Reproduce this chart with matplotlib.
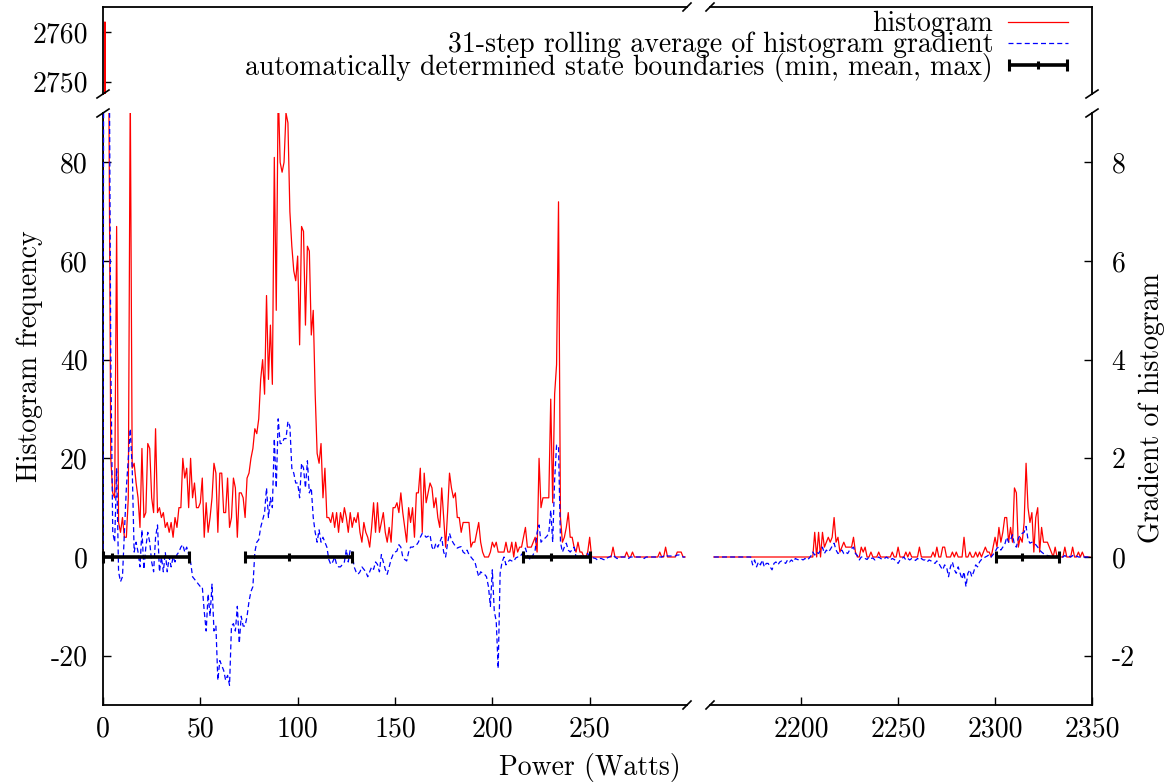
import numpy as np
import matplotlib
matplotlib.use("Agg")
import matplotlib.pyplot as plt
from matplotlib.lines import Line2D
from matplotlib.legend_handler import HandlerErrorbar

plt.rcParams['font.family'] = ['cmr10', 'DejaVu Serif']
plt.rcParams['axes.unicode_minus'] = False
plt.rcParams['font.size'] = 20

# ---- data (1 W bins) ----
left_start = 0      # first bin of the low-power part (W)
right_start = 2155  # first bin of the high-power part (W)

hist_left = [
    0, 2762, 400, 95, 20, 13, 12, 67, 7, 5, 8, 4, 4, 12, 95, 18, 19, 15, 12, 6,
    22, 8, 9, 23, 22, 12, 9, 26, 9, 10, 8, 9, 6, 7, 5, 7, 4, 8, 6, 10,
    10, 20, 16, 18, 10, 20, 12, 15, 10, 10, 11, 16, 4, 11, 5, 8, 12, 19, 17, 5,
    17, 17, 9, 9, 16, 6, 8, 16, 14, 4, 13, 13, 12, 8, 16, 17, 20, 22, 26, 25,
    28, 36, 40, 33, 53, 36, 47, 35, 81, 50, 95, 80, 78, 80, 90, 88, 70, 63, 58, 56,
    61, 43, 67, 66, 47, 63, 62, 45, 50, 33, 21, 19, 23, 12, 18, 8, 8, 7, 9, 6,
    9, 5, 9, 7, 10, 8, 5, 9, 6, 8, 7, 9, 5, 3, 7, 5, 4, 2, 6, 11,
    5, 11, 5, 7, 9, 5, 3, 6, 3, 10, 10, 11, 9, 13, 9, 6, 3, 10, 7, 10,
    4, 13, 13, 18, 5, 17, 11, 13, 15, 14, 10, 12, 8, 6, 14, 8, 2, 9, 17, 14,
    12, 13, 8, 8, 5, 7, 7, 7, 7, 2, 3, 3, 5, 7, 3, 1, 0, 0, 0, 1,
    3, 2, 3, 1, 1, 1, 1, 3, 1, 1, 3, 0, 3, 1, 2, 2, 4, 6, 2, 2,
    2, 3, 4, 1, 20, 10, 12, 12, 12, 12, 32, 11, 33, 39, 72, 8, 3, 4, 6, 9,
    4, 4, 2, 1, 3, 1, 1, 0, 0, 1, 4, 0, 0, 0, 0, 0, 0, 0, 0, 0,
    0, 0, 2, 0, 0, 0, 0, 0, 0, 1, 0, 0, 1, 0, 0, 0, 0, 0, 0, 0,
    0, 0, 0, 0, 0, 0, 1, 0, 0, 2, 0, 0, 0, 0, 0, 1, 1, 1, 0, 0,
]

grad_left = [
    0, 30, 25, 12, 4, 0.5, 0.3, 1.8, -0.3, -0.5, -0.4, 0.5, 1.4, 2.0, 2.6, 1.8, 0.1, 0.3, 0.1, -0.2,
    0.55, -0.25, 0.2, 0.5, 0.3, -0.1, -0.3, 0.4, 0.65, -0.3, 0, -0.3, 0.1, -0.3, 0, -0.2, 0, -0.1, 0.05, 0.1,
    0.2, 0.25, 0.1, 0.2, 0.05, -0.1, -0.4, -0.45, -0.5, -0.55, -0.6, -0.6, -1.1, -1.5, -0.75, -1.2, -0.55, -1.5, -1.4, -2.5,
    -2.1, -2.2, -2.3, -2.5, -2.4, -2.6, -1.4, -1.35, -1.5, -1.0, -1.75, -1.2, -1.4, -1.4, -1.2, -0.9, -0.7, -0.6, 0.1, 0.3,
    0.35, 0.6, 0.75, 0.9, 1.4, 0.8, 1.2, 1.0, 2.4, 1.4, 2.8, 2.3, 2.3, 2.4, 2.4, 2.75, 2.65, 1.8, 1.7, 1.5,
    1.5, 1.2, 1.9, 1.8, 1.4, 1.95, 1.3, 1.4, 0.8, 0.5, 0.3, 0.55, 0.3, 0.4, 0.3, 0.2, -0.05, -0.15, -0.1, 0,
    -0.15, -0.2, -0.2, -0.15, -0.1, 0.15, -0.1, 0.15, 0.1, -0.2, -0.3, -0.35, -0.3, -0.2, -0.25, -0.3, -0.4, -0.3, -0.2, -0.25,
    -0.1, -0.15, -0.3, 0.05, -0.1, -0.25, -0.35, -0.2, -0.05, 0.05, 0.1, 0.12, 0.25, 0.2, 0, -0.05, -0.08, 0.1, 0.2, 0.2,
    0.22, 0.24, 0.3, 0.4, 0.48, 0.45, 0.4, 0.42, 0.45, 0.2, 0.14, 0.28, 0.2, 0.3, 0.4, 0.1, 0, 0.28, 0.48, 0.35,
    0.28, 0.22, 0.18, 0.2, 0.21, 0.1, 0.07, 0.14, 0.05, 0, -0.05, -0.09, -0.25, -0.4, -0.3, -0.33, -0.35, -0.4, -0.6, -1.0,
    -0.26, -1.1, -1.3, -2.26, -0.33, -0.1, 0, -0.16, -0.1, -0.06, -0.08, -0.09, -0.02, 0, 0, 0.05, 0.1, 0.18, 0.04, -0.03,
    -0.06, 0.05, 0.14, 0.5, 0.65, 0.3, 0.35, 0.38, 0.42, 0.48, 0.95, 0.3, 1.56, 2.27, 2.24, 0.3, 0.1, 0.2, 0.28, 0.14,
    0.1, 0.15, 0.2, 0, 0.02, 0.04, 0.01, 0, 0.05, 0.07, 0, 0, -0.02, -0.03, -0.06, -0.03, -0.03, -0.05, -0.06, -0.02,
    0, 0.02, 0.04, 0, -0.03, -0.03, 0, 0, 0, 0, -0.03, 0, 0, 0, 0, 0, 0, 0, -0.03, 0,
    0, 0, 0, 0, 0, 0, 0, 0, 0.02, 0.04, 0.02, 0.02, 0.02, 0.02, 0.02, 0.04, 0.04, 0.02, 0, 0,
]

hist_right = [
    0, 0, 0, 0, 0, 0, 0, 0, 0, 0, 0, 0, 0, 0, 0, 0, 0, 0, 0, 0,
    0, 0, 0, 0, 0, 0, 0, 0, 0, 0, 0, 0, 0, 0, 0, 0, 0, 0, 0, 0,
    0, 0, 0, 0, 0, 0, 0, 0, 0, 0, 0, 0, 5, 0, 5, 0, 5, 2, 3, 4,
    3, 4, 8, 3, 4, 1, 2, 3, 2, 2, 2, 2, 4, 1, 0, 0, 2, 1, 2, 0,
    0, 1, 0, 0, 0, 1, 0, 0, 0, 0, 0, 0, 1, 0, 0, 2, 0, 0, 0, 1,
    0, 1, 0, 0, 0, 0, 2, 0, 0, 0, 0, 0, 0, 1, 0, 2, 0, 0, 2, 2,
    0, 0, 0, 1, 0, 1, 0, 0, 0, 4, 0, 0, 1, 0, 0, 1, 0, 1, 0, 1,
    2, 1, 1, 0, 2, 4, 2, 6, 3, 5, 8, 8, 3, 6, 3, 14, 13, 2, 4, 3,
    7, 19, 10, 7, 9, 1, 8, 10, 1, 6, 3, 3, 3, 2, 1, 0, 2, 0, 0, 0,
    0, 2, 0, 0, 0, 2, 0, 0, 1, 0, 1, 0, 0, 0, 0,
]

grad_right = [
    0, 0, 0, 0, 0, 0, 0, 0, 0, 0, 0, 0, 0, 0, 0, 0, 0, 0, 0, 0,
    -0.16, -0.06, -0.2, -0.1, -0.16, -0.06, -0.2, -0.13, -0.13, -0.2, -0.26, -0.13, -0.1, -0.16, -0.1, -0.08, -0.1, -0.13, -0.06, -0.1,
    -0.06, -0.1, -0.03, -0.05, -0.06, -0.04, -0.06, -0.03, -0.06, -0.03, 0.02, 0.1, 0.04, 0.1, 0.07, 0.14, 0.2, 0.07, 0.14, 0.1,
    0.15, 0.22, 0.28, 0.14, 0.07, 0.1, 0.14, 0.07, 0.1, 0.07, 0.14, 0.17, 0.2, 0.07, 0.03, -0.06, 0, 0, -0.03, -0.05,
    0, -0.03, -0.02, -0.06, -0.03, 0, -0.03, -0.05, -0.03, 0, -0.03, -0.06, -0.03, -0.05, -0.08, -0.13, -0.06, -0.03, 0, -0.06,
    -0.03, -0.06, -0.03, -0.04, -0.07, -0.03, -0.06, -0.03, -0.06, -0.06, -0.1, -0.06, -0.08, -0.1, -0.13, -0.08, -0.13, -0.2, -0.26, -0.16,
    -0.2, -0.4, -0.2, -0.1, -0.26, -0.33, -0.2, -0.33, -0.45, -0.3, -0.6, -0.33, -0.26, -0.4, -0.3, -0.16, -0.2, -0.1, -0.05, -0.03,
    0, 0.02, 0.05, 0, 0.05, 0.1, 0.18, 0.2, 0.14, 0.2, 0.25, 0.4, 0.3, 0.35, 0.45, 0.25, 0.2, 0.38, 0.45, 0.48,
    0.5, 0.62, 0.35, 0.28, 0.3, 0.28, 0.25, 0.2, 0.14, 0.1, 0.07, 0.05, 0.03, 0.02, 0, 0, 0, 0, 0.02, 0,
    0, 0.03, 0, 0.02, 0, 0.03, 0, 0.02, 0, 0, 0, 0, 0, 0, 0,
]

# state boundaries (min, mean, max) in Watts
state_min = [0, 73, 216, 2300.5]
state_mean = [4.5, 95.6, 230.2, 2313.8]
state_max = [44, 127.7, 250.3, 2332.8]

x_left = np.arange(len(hist_left)) + left_start
x_right = np.arange(len(hist_right)) + right_start
state_min = np.array(state_min)
state_mean = np.array(state_mean)
state_max = np.array(state_max)

# ---- layout (pixel boxes, y measured from top) ----
W, H = 1173, 782
fig = plt.figure(figsize=(W / 100, H / 100), dpi=100)

def box(x0, y0, x1, y1):
    return [x0 / W, 1 - y1 / H, (x1 - x0) / W, (y1 - y0) / H]

ax_ll = fig.add_axes(box(103, 113, 687, 705))
ax_lr = fig.add_axes(box(710, 113, 1092, 705))
ax_ul = fig.add_axes(box(103, 7, 687, 94))
ax_ur = fig.add_axes(box(710, 7, 1092, 94))

red_kw = dict(color='#ff0000', lw=0.9)
blue_kw = dict(color='#0000ff', lw=0.9, ls=(0, (4, 2.5)))
err_kw = dict(fmt='|', color='black', ms=6, mew=2.2, elinewidth=2.6,
              capsize=4.5, capthick=2.2)

for ax, xs, hs in [(ax_ll, x_left, hist_left), (ax_ul, x_left, hist_left),
                   (ax_lr, x_right, hist_right), (ax_ur, x_right, hist_right)]:
    ax.plot(xs, hs, **red_kw)
    ax.patch.set_alpha(0)
    for s in ax.spines.values():
        s.set_linewidth(1.3)
    ax.tick_params(direction='in', length=6, width=1.0)

for ax in (ax_ll, ax_ul):
    ax.set_xlim(0, 300)
for ax in (ax_lr, ax_ur):
    ax.set_xlim(2153, 2350)
for ax in (ax_ll, ax_lr):
    ax.set_ylim(-30, 90)
for ax in (ax_ul, ax_ur):
    ax.set_ylim(2747.5, 2765)

# twin axes for the gradient (1/10 of the histogram scale)
g_ll = ax_ll.twinx()
g_lr = ax_lr.twinx()
for g, xs, gs, sel in [(g_ll, x_left, grad_left, state_max < 300),
                       (g_lr, x_right, grad_right, state_min > 2000)]:
    g.set_ylim(-3, 9)
    g.plot(xs, gs, **blue_kw)
    eb = g.errorbar(state_mean[sel], np.zeros(sel.sum()),
                    xerr=[state_mean[sel] - state_min[sel], state_max[sel] - state_mean[sel]],
                    **err_kw)
    for a in (eb[1] + eb[2]):
        a.set_clip_on(False)
    for s in g.spines.values():
        s.set_visible(False)
    g.tick_params(direction='in', length=6, width=1.0)
g_ll.set_yticks([])
g_lr.set_yticks([-2, 0, 2, 4, 6, 8])
g_lr.tick_params(right=True, labelright=True, pad=14)

# spines and ticks
ax_ll.spines['top'].set_visible(False)
ax_ll.spines['right'].set_visible(False)
ax_lr.spines['top'].set_visible(False)
ax_lr.spines['left'].set_visible(False)
ax_ul.spines['bottom'].set_visible(False)
ax_ul.spines['right'].set_visible(False)
ax_ur.spines['bottom'].set_visible(False)
ax_ur.spines['left'].set_visible(False)

ax_ll.set_xticks([0, 50, 100, 150, 200, 250])
ax_ll.set_yticks([-20, 0, 20, 40, 60, 80])
ax_ll.tick_params(axis='y', pad=11)
ax_ll.tick_params(axis='x', pad=8)
ax_lr.set_xticks([2200, 2250, 2300, 2350])
ax_lr.tick_params(axis='x', pad=8)
ax_lr.tick_params(axis='y', left=False, labelleft=False)
ax_ul.set_xticks([])
ax_ul.set_yticks([2750, 2760])
ax_ul.tick_params(axis='y', pad=11)
ax_ur.set_xticks([])
ax_ur.set_yticks([])

# break marks
def slash(x, y, dx, dy):
    fig.add_artist(Line2D([(x - dx) / W, (x + dx) / W], [1 - (y + dy) / H, 1 - (y - dy) / H],
                          transform=fig.transFigure, color='black', lw=1.2))

for yy in (94, 113):
    slash(103, yy, 6, 4)
    slash(1092, yy, 6, 4)
for xx in (687, 710):
    slash(xx, 705, 4, 4)
    slash(xx, 7, 4, 4)

# labels
fig.text(30 / W, 1 - 356 / H, 'Histogram frequency', rotation=90, ha='center', va='center')
fig.text(1152 / W, 1 - 408 / H, 'Gradient of histogram', rotation=90, ha='center', va='center')
fig.text(590 / W, 1 - 768 / H, 'Power (Watts)', ha='center', va='center')

# legend
h_red = Line2D([], [], **red_kw)
h_blue = Line2D([], [], **blue_kw)
fig.legend([h_red, h_blue, eb],
           ['histogram', '31-step rolling average of histogram gradient',
            'automatically determined state boundaries (min, mean, max)'],
           handler_map={eb: HandlerErrorbar(xerr_size=1.05)},
           loc='upper right', bbox_to_anchor=(1068 / W, 1 - 11 / H),
           frameon=False, markerfirst=False, handlelength=2.15,
           handletextpad=0.55, labelspacing=-0.2, borderpad=0, borderaxespad=0)

fig.savefig('out.png', dpi=100)
